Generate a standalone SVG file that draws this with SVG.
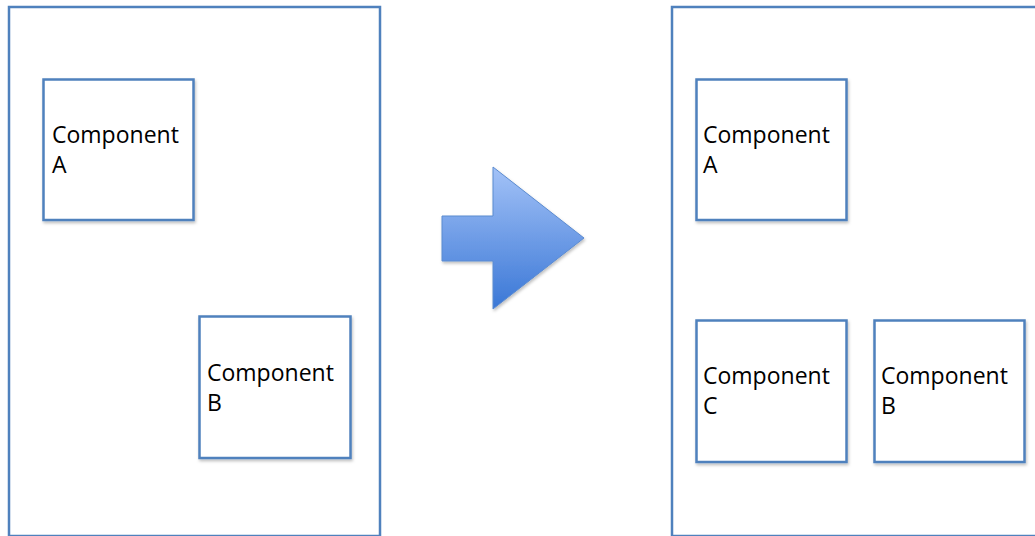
<svg xmlns="http://www.w3.org/2000/svg" width="1035" height="536" viewBox="0 0 1035 536">
<defs>
<linearGradient id="arrowGrad" x1="0" y1="0" x2="0" y2="1">
<stop offset="0" stop-color="#a3c2f7"/>
<stop offset="1" stop-color="#3a77d6"/>
</linearGradient>
<filter id="shadow" x="-10%" y="-10%" width="125%" height="125%">
<feDropShadow dx="1" dy="2" stdDeviation="1.5" flood-color="#000" flood-opacity="0.25"/>
</filter>
<style>
.container{fill:#fff;stroke:#4f81bd;stroke-width:2.5}
.box{fill:#fff;stroke:#4f81bd;stroke-width:2.5;filter:url(#shadow)}
.label{font-family:"Open Sans","DejaVu Sans",sans-serif;font-size:23px;fill:#000}
</style>
</defs>
<rect width="1035" height="536" fill="#fff"/>
<g id="left-container">
<rect class="container" x="9" y="7" width="371" height="529"/>
</g>
<g id="right-container">
<rect class="container" x="672" y="7" width="400" height="529"/>
</g>
<g id="left-component-a">
<rect class="box" x="43.5" y="79.5" width="150" height="140.5"/>
<text class="label" x="52" y="143">Component</text>
<text class="label" x="52" y="173">A</text>
</g>
<g id="left-component-b">
<rect class="box" x="199.5" y="316.5" width="151" height="141.5"/>
<text class="label" x="207" y="381">Component</text>
<text class="label" x="207" y="411">B</text>
</g>
<g id="right-component-a">
<rect class="box" x="696.5" y="79.5" width="150" height="140.5"/>
<text class="label" x="703" y="143">Component</text>
<text class="label" x="703" y="173">A</text>
</g>
<g id="right-component-c">
<rect class="box" x="696.5" y="320.5" width="150" height="141.5"/>
<text class="label" x="703" y="384">Component</text>
<text class="label" x="703" y="414">C</text>
</g>
<g id="right-component-b">
<rect class="box" x="874.5" y="320.5" width="150" height="141.5"/>
<text class="label" x="881" y="384">Component</text>
<text class="label" x="881" y="414">B</text>
</g>
<g id="connectors">
<g id="transform-arrow">
<polygon points="442,216 493,216 493,167 584,238 493,309 493,261 442,261" fill="url(#arrowGrad)" stroke="#5b8bd0" stroke-width="1" filter="url(#shadow)"/>
</g>
</g>
</svg>
